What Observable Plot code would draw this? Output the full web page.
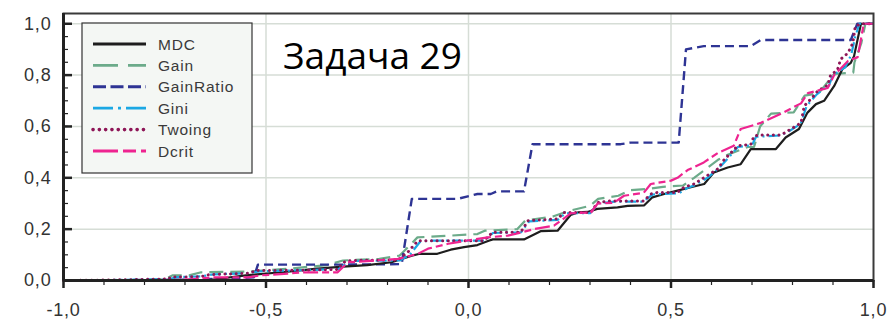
<!DOCTYPE html>
<html>
<head>
<meta charset="utf-8">
<script src="https://cdn.jsdelivr.net/npm/d3@7"></script>
<script src="https://cdn.jsdelivr.net/npm/@observablehq/plot@0.6"></script>
<style>
  body { margin: 0; background: #fff; }
  #chart { position: relative; width: 887px; height: 320px; }
  #chart svg text { letter-spacing: 0.8px; }
  #overlay { position: absolute; left: 0; top: 0; pointer-events: none; }
  #overlay text.title { letter-spacing: 0; }
</style>
</head>
<body>
<div id="chart"></div>
<script>
// Cumulative curves, [x, share] pairs
const mdc = [[-1,0],[-0.8,0],[-0.64,0.002],[-0.55,0.02],[-0.44,0.035],[-0.38,0.045],[-0.31,0.054],[-0.25,0.06],[-0.19,0.071],[-0.14,0.097],[-0.12,0.104],[-0.077,0.104],[-0.044,0.12],[-0.011,0.13],[0.022,0.138],[0.05,0.155],[0.06,0.16],[0.137,0.16],[0.178,0.192],[0.22,0.194],[0.252,0.255],[0.27,0.265],[0.294,0.267],[0.318,0.279],[0.368,0.285],[0.393,0.291],[0.434,0.293],[0.454,0.324],[0.483,0.337],[0.516,0.35],[0.549,0.363],[0.582,0.376],[0.606,0.421],[0.64,0.44],[0.672,0.453],[0.697,0.512],[0.759,0.512],[0.783,0.557],[0.816,0.59],[0.837,0.654],[0.858,0.687],[0.878,0.7],[0.903,0.758],[0.923,0.823],[0.944,0.848],[0.952,0.874],[0.969,1],[1,1]];
const gain = [[-1,0],[-0.8,0.002],[-0.75,0.006],[-0.73,0.02],[-0.69,0.02],[-0.66,0.032],[-0.54,0.035],[-0.51,0.039],[-0.45,0.045],[-0.35,0.06],[-0.31,0.078],[-0.22,0.084],[-0.17,0.097],[-0.126,0.168],[-0.044,0.175],[0.022,0.181],[0.04,0.194],[0.12,0.2],[0.14,0.233],[0.21,0.25],[0.25,0.272],[0.3,0.291],[0.32,0.318],[0.37,0.33],[0.40,0.352],[0.45,0.358],[0.48,0.365],[0.53,0.37],[0.557,0.4],[0.616,0.47],[0.64,0.49],[0.69,0.52],[0.705,0.52],[0.72,0.6],[0.747,0.65],[0.803,0.655],[0.83,0.72],[0.865,0.73],[0.903,0.805],[0.95,0.81],[0.953,0.85],[0.97,0.925],[0.98,1],[1,1]];
const gainRatio = [[-1,0],[-0.7,0.003],[-0.6,0.008],[-0.53,0.012],[-0.52,0.062],[-0.3,0.062],[-0.165,0.064],[-0.14,0.318],[-0.027,0.318],[0.022,0.337],[0.055,0.337],[0.07,0.347],[0.137,0.347],[0.158,0.531],[0.376,0.531],[0.4,0.537],[0.519,0.537],[0.537,0.9],[0.581,0.913],[0.697,0.913],[0.722,0.937],[0.944,0.937],[0.96,1],[1,1]];
const gini = [[-1,0],[-0.88,0.002],[-0.74,0.005],[-0.72,0.013],[-0.66,0.016],[-0.63,0.024],[-0.55,0.028],[-0.51,0.036],[-0.41,0.04],[-0.32,0.045],[-0.3,0.068],[-0.28,0.076],[-0.17,0.078],[-0.145,0.1],[-0.12,0.15],[-0.1,0.155],[0.04,0.155],[0.06,0.185],[0.13,0.188],[0.15,0.23],[0.22,0.236],[0.24,0.262],[0.3,0.262],[0.32,0.3],[0.36,0.307],[0.43,0.307],[0.455,0.335],[0.52,0.34],[0.54,0.36],[0.56,0.372],[0.59,0.4],[0.62,0.44],[0.64,0.475],[0.665,0.52],[0.7,0.527],[0.71,0.56],[0.77,0.565],[0.79,0.58],[0.82,0.61],[0.835,0.68],[0.86,0.725],[0.89,0.76],[0.9,0.8],[0.93,0.83],[0.945,0.88],[0.955,0.95],[0.965,1],[1,1]];
const twoing = [[-1,0],[-0.88,0.002],[-0.74,0.006],[-0.735,0.013],[-0.66,0.015],[-0.64,0.023],[-0.545,0.028],[-0.52,0.039],[-0.406,0.04],[-0.323,0.043],[-0.308,0.071],[-0.291,0.078],[-0.174,0.08],[-0.15,0.11],[-0.125,0.155],[0.038,0.155],[0.055,0.181],[0.06,0.188],[0.129,0.188],[0.147,0.233],[0.221,0.24],[0.235,0.265],[0.302,0.265],[0.319,0.304],[0.351,0.31],[0.433,0.31],[0.45,0.337],[0.467,0.343],[0.516,0.343],[0.532,0.363],[0.557,0.376],[0.581,0.4],[0.616,0.435],[0.631,0.47],[0.665,0.525],[0.697,0.53],[0.705,0.563],[0.722,0.567],[0.772,0.567],[0.789,0.583],[0.821,0.614],[0.829,0.68],[0.853,0.72],[0.863,0.74],[0.887,0.76],[0.894,0.8],[0.911,0.82],[0.919,0.862],[0.937,0.886],[0.949,0.925],[0.955,0.99],[0.969,1],[1,1]];
const dcrit = [[-1,0],[-0.74,0.001],[-0.68,0.005],[-0.636,0.012],[-0.545,0.012],[-0.513,0.02],[-0.446,0.027],[-0.41,0.032],[-0.323,0.032],[-0.298,0.071],[-0.174,0.084],[-0.125,0.104],[-0.1,0.124],[-0.05,0.143],[0.013,0.16],[0.048,0.168],[0.097,0.175],[0.137,0.19],[0.161,0.2],[0.211,0.214],[0.228,0.233],[0.253,0.262],[0.302,0.265],[0.319,0.3],[0.359,0.303],[0.384,0.33],[0.433,0.342],[0.45,0.376],[0.5,0.389],[0.516,0.4],[0.541,0.43],[0.581,0.46],[0.616,0.497],[0.655,0.525],[0.672,0.59],[0.722,0.614],[0.772,0.65],[0.821,0.69],[0.838,0.73],[0.887,0.75],[0.903,0.8],[0.937,0.855],[0.961,0.87],[0.976,1],[1,1]];

const seriesNames = ["MDC", "Gain", "GainRatio", "Gini", "Twoing", "Dcrit"];
const seriesValues = [mdc, gain, gainRatio, gini, twoing, dcrit];

const xTicks = [-1, -0.5, 0, 0.5, 1];
const xTickLabels = ["-1,0", "-0,5", "0,0", "0,5", "1,0"];
const yTicks = [0, 0.2, 0.4, 0.6, 0.8, 1];
const yTickLabels = ["0,0", "0,2", "0,4", "0,6", "0,8", "1,0"];
const title = "Задача 29";

const xDomain = [-1, 1];
const yDomain = [0, 1.04];

// Line styles per series (dash = in the plot, key = in the legend sample)
const styles = {
  MDC:       {stroke: "#1e1e1e", width: 2.2, dash: null,        key: null},
  Gain:      {stroke: "#6cab8a", width: 2.2, dash: "14,7",      key: "25,10"},
  GainRatio: {stroke: "#2e3494", width: 2.4, dash: "9,5",       key: "13,4.5"},
  Gini:      {stroke: "#1ba8e4", width: 2.2, dash: "11,4,2,4",  key: "20,5,3,5"},
  Twoing:    {stroke: "#8e1657", width: 3.0, dash: "0.1,5.5",   key: "0.1,6.2", cap: "round"},
  Dcrit:     {stroke: "#ee2490", width: 2.2, dash: "15,4,7,4",  key: "25,5,13,5"}
};
const drawOrder = ["Gain", "GainRatio", "MDC", "Gini", "Twoing", "Dcrit"];

const rows = seriesNames.flatMap((name, i) =>
  seriesValues[i].map(([x, y]) => ({name, x, y})));

const xMinor = d3.ticks(xDomain[0], xDomain[1], 20);
const yMinor = d3.ticks(yDomain[0], 1, 25);
const xLabel = d => xTickLabels[xTicks.indexOf(d)];
const yLabel = d => yTickLabels[yTicks.indexOf(d)];

const axisColor = "#222";
const gridColor = "#d6ddd6";

const chart = Plot.plot({
  width: 887,
  height: 320,
  marginLeft: 63,
  marginRight: 14,
  marginTop: 13,
  marginBottom: 40,
  x: {domain: xDomain, label: null},
  y: {domain: yDomain, label: null},
  style: {
    fontFamily: "'Liberation Sans', Arial, sans-serif",
    fontSize: "18px",
    background: "#fff",
    overflow: "visible"
  },
  marks: [
    Plot.ruleX(xTicks.slice(1, -1), {stroke: gridColor, strokeWidth: 1.5}),
    Plot.ruleY(yTicks.slice(1), {stroke: gridColor, strokeWidth: 1.5}),
    ...drawOrder.map(name => {
      const s = styles[name];
      return Plot.line(rows.filter(d => d.name === name), {
        x: "x", y: "y",
        stroke: s.stroke,
        strokeWidth: s.width,
        strokeDasharray: s.dash,
        strokeLinecap: s.cap || "butt",
        strokeLinejoin: "round"
      });
    }),
    Plot.frame({stroke: "#3a3a3a", strokeWidth: 2}),
    Plot.ruleX([xDomain[0]], {stroke: axisColor, strokeWidth: 3}),
    Plot.ruleY([yDomain[0]], {stroke: axisColor, strokeWidth: 3}),
    // inward ticks on the left axis
    Plot.axisY(yMinor, {tickSize: -5, fill: "none", stroke: axisColor, strokeWidth: 1.2}),
    Plot.axisY(yTicks, {tickSize: -9, fill: "none", stroke: axisColor, strokeWidth: 2.5}),
    Plot.axisY(yTicks, {tickSize: 0, tickPadding: 12, tickFormat: yLabel, fill: "#333"}),
    // outward ticks on the bottom axis
    Plot.axisX(xMinor, {tickSize: 5, fill: "none", stroke: axisColor, strokeWidth: 1.2}),
    Plot.axisX(xTicks, {tickSize: 8, fill: "none", stroke: axisColor, strokeWidth: 2.5}),
    Plot.axisX(xTicks, {tickSize: 0, tickPadding: 23, tickFormat: xLabel, fill: "#333"})
  ]
});

const root = document.getElementById("chart");
root.appendChild(chart);

// Legend box and title drawn over the plot area
const overlay = d3.select(root).append("svg")
  .attr("id", "overlay")
  .attr("width", 887)
  .attr("height", 320);

const legend = overlay.append("g").attr("transform", "translate(82,23)");
legend.append("rect")
  .attr("width", 170).attr("height", 150)
  .attr("fill", "#f4f7f4")
  .attr("stroke", "#333").attr("stroke-width", 1.2);

seriesNames.forEach((name, i) => {
  const s = styles[name];
  const y = 21 + i * 21.4;
  legend.append("line")
    .attr("x1", 11).attr("x2", 64).attr("y1", y).attr("y2", y)
    .attr("stroke", s.stroke)
    .attr("stroke-width", s.width + 0.6)
    .attr("stroke-dasharray", s.key)
    .attr("stroke-linecap", s.cap || "butt");
  legend.append("text")
    .attr("x", 76).attr("y", y + 5.5)
    .attr("font-family", "'Liberation Sans', Arial, sans-serif")
    .attr("font-size", 15.5)
    .attr("letter-spacing", 1)
    .attr("fill", "#3a3a3a")
    .text(name);
});

overlay.append("text")
  .attr("class", "title")
  .attr("x", 283).attr("y", 69)
  .attr("font-family", "'Open Sans', sans-serif")
  .attr("font-size", 37)
  .attr("fill", "#000")
  .text(title);
</script>
</body>
</html>
